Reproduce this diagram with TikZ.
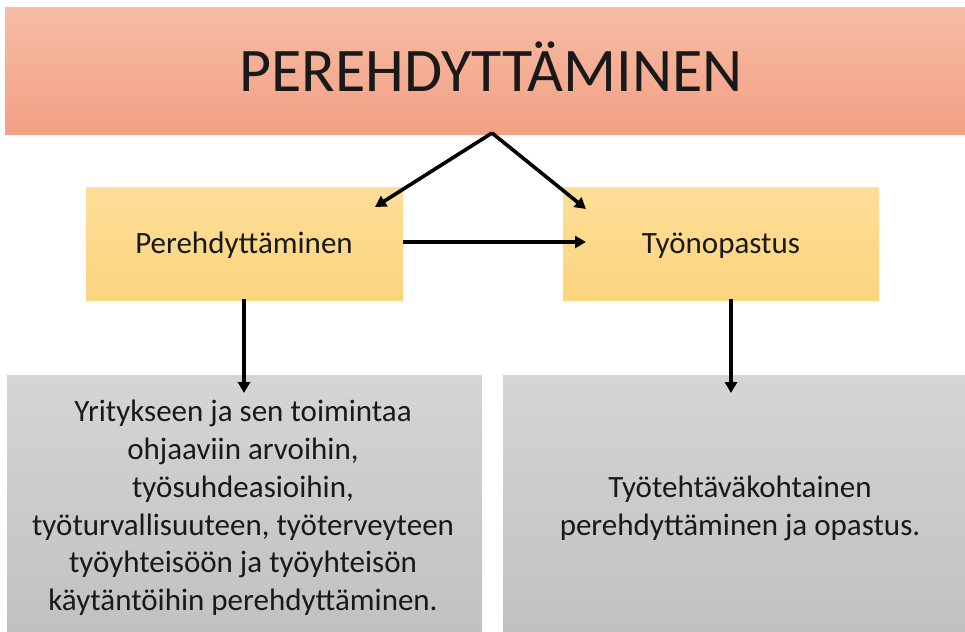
\documentclass[tikz,border=0pt]{standalone}
\usepackage{fontspec}
\setmainfont{Carlito}
\usetikzlibrary{arrows.meta}
\definecolor{salmonT}{RGB}{246,188,164}
\definecolor{salmonB}{RGB}{243,160,132}
\definecolor{yellowT}{RGB}{253,222,152}
\definecolor{yellowB}{RGB}{252,212,126}
\definecolor{grayT}{RGB}{213,213,213}
\definecolor{grayB}{RGB}{192,192,192}
\tikzset{
  box/.style={inner sep=0pt, anchor=north west},
  topbox/.style={box, top color=salmonT, bottom color=salmonB},
  midbox/.style={box, top color=yellowT, bottom color=yellowB},
  lowbox/.style={box, top color=grayT, bottom color=grayB},
  conn/.style={line width=3.6pt, -{Triangle[length=11pt,width=12pt]}},
  label/.style={inner sep=0pt, font=\fontsize{31}{37.8}\selectfont, text=black!90}
}
\begin{document}
\begin{tikzpicture}[x=1pt,y=-1pt]
\useasboundingbox (0,0) rectangle (965,631);
\begin{scope}
\clip (0,0) rectangle (965,631);
\node[topbox, minimum width=975pt, minimum height=127pt] (top) at (5,7) {};
\node[midbox, minimum width=317pt, minimum height=113pt] (lbox) at (86,187) {};
\node[midbox, minimum width=316pt, minimum height=113pt] (rbox) at (563,187) {};
\node[lowbox, minimum width=475pt, minimum height=270pt] (lgray) at (7,375) {};
\node[lowbox, minimum width=475pt, minimum height=270pt] (rgray) at (503,375) {};
\end{scope}
\node[inner sep=0pt, anchor=base, font=\fontsize{62}{70}\selectfont, text=black!90] (title) at (491,92) {PEREHDYTTÄMINEN};
\node[label, anchor=base] (ltext) at (244,253) {Perehdyttäminen};
\node[label, anchor=base] (rtext) at (721,253) {Työnopastus};
\node[label, align=center] (lgtext) at (243,508) {Yritykseen ja sen toimintaa\\ohjaaviin arvoihin,\\työsuhdeasioihin,\\työturvallisuuteen, työterveyteen\\työyhteisöön ja työyhteisön\\käytäntöihin perehdyttäminen.};
\node[label, align=center] (rgtext) at (740,508) {Työtehtäväkohtainen\\perehdyttäminen ja opastus.};
\coordinate (apex) at (492,133);
\coordinate (ltip) at (375,207);
\coordinate (rtip) at (586,209);
\coordinate (hstart) at (403,242);
\coordinate (htip) at (586,242);
\coordinate (lv1) at (244,299);
\coordinate (lv2) at (244,393);
\coordinate (rv1) at (731,299);
\coordinate (rv2) at (731,393);
\draw[conn, line join=miter] (apex) -- (ltip);
\draw[conn] (apex) -- (rtip);
\draw[conn] (hstart) -- (htip);
\draw[conn] (lv1) -- (lv2);
\draw[conn] (rv1) -- (rv2);
\end{tikzpicture}
\end{document}
